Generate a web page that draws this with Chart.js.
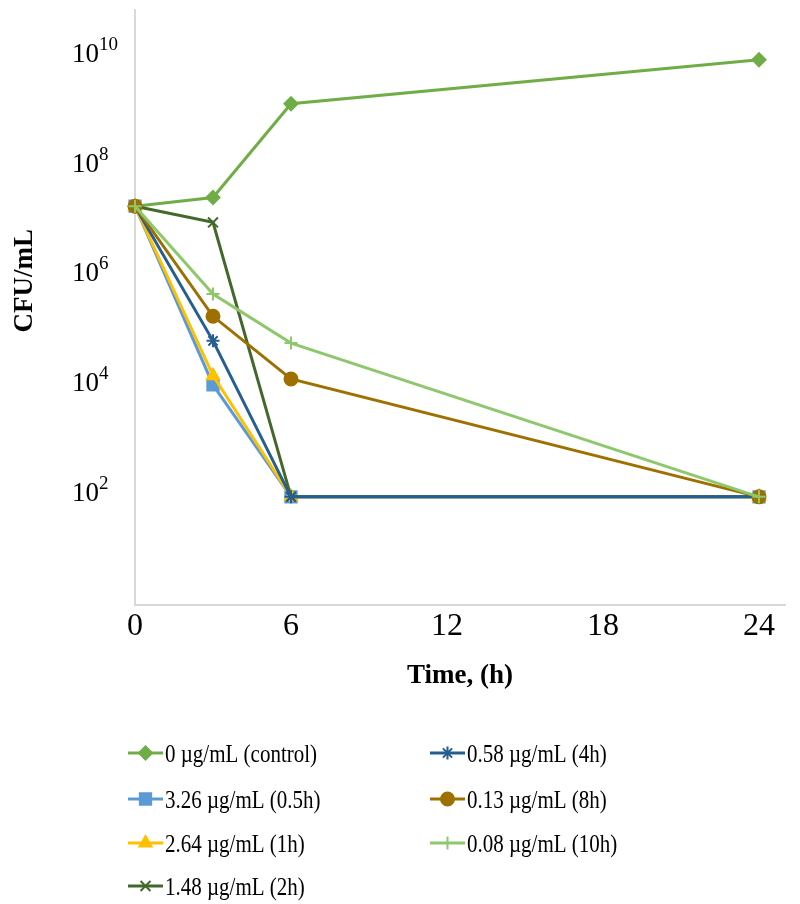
<!DOCTYPE html>
<html>
<head>
<meta charset="utf-8">
<title>Time-kill curves</title>
<script src="https://cdn.jsdelivr.net/npm/chart.js@4/dist/chart.umd.min.js"></script>
<style>
  html, body { margin: 0; padding: 0; background: #fff; }
  #wrap { position: relative; width: 800px; height: 904px; }
</style>
</head>
<body>
<div id="wrap"><canvas id="killChart"></canvas></div>
<script>
// sampling times (h)
const hours = [0, 3, 6, 24];

// CFU/mL for each treatment
const control = [1.6e7, 2.3e7, 1.18e9, 7.5e9];
const dose326 = [1.6e7, 8.8e3, 80, 80];
const dose264 = [1.6e7, 1.3e4, 80, 80];
const dose148 = [1.6e7, 8.1e6, 80, 80];
const dose058 = [1.6e7, 5.6e4, 80, 80];
const dose013 = [1.6e7, 1.57e5, 1.13e4, 80];
const dose008 = [1.6e7, 4.0e5, 5.1e4, 80];

const seriesNames = [
  "0 \u00b5g/mL (control)",
  "3.26 \u00b5g/mL (0.5h)",
  "2.64 \u00b5g/mL (1h)",
  "1.48 \u00b5g/mL (2h)",
  "0.58 \u00b5g/mL (4h)",
  "0.13 \u00b5g/mL (8h)",
  "0.08 \u00b5g/mL (10h)"
];
const seriesValues = [control, dose326, dose264, dose148, dose058, dose013, dose008];
const seriesColors = ["#70ad47", "#5b9bd5", "#ffc000", "#43682b", "#255e91", "#9e7000", "#8dc96c"];
const seriesMarkers = ["rectRot", "rect", "triangle", "crossRot", "star", "circle", "cross"];
const markerSizes = [6.5, 8, 7, 7, 6.5, 6.5, 6.5];

const xTickValues = [0, 6, 12, 18, 24];
const yTickExponents = [2, 4, 6, 8, 10];

const SERIF = "'Liberation Serif', 'Times New Roman', serif";

const datasets = seriesNames.map((name, i) => ({
  label: name,
  data: hours.map((h, j) => ({ x: h, y: seriesValues[i][j] })),
  borderColor: seriesColors[i],
  backgroundColor: seriesColors[i],
  pointBackgroundColor: seriesColors[i],
  pointBorderColor: seriesColors[i],
  pointStyle: seriesMarkers[i],
  pointRadius: markerSizes[i],
  pointBorderWidth: 2,
  borderWidth: 3,
  tension: 0,
  clip: false,
  order: seriesNames.length - i   // later series sit on top
}));

function drawMarker(ctx, style, radius, color, x, y) {
  ctx.save();
  ctx.fillStyle = color;
  ctx.strokeStyle = color;
  ctx.lineWidth = 2;
  Chart.helpers.drawPoint(ctx, { pointStyle: style, radius: radius, borderWidth: 2, rotation: 0 }, x, y);
  ctx.restore();
}

// y tick labels as 10 with a raised exponent, plus the rotated y title
const logLabels = {
  id: 'logLabels',
  afterDraw(chart) {
    const ctx = chart.ctx;
    const yScale = chart.scales.y;
    ctx.save();
    ctx.fillStyle = '#000';
    ctx.textAlign = 'left';
    ctx.textBaseline = 'alphabetic';
    yTickExponents.forEach(e => {
      const y = yScale.getPixelForValue(Math.pow(10, e));
      ctx.font = '27px ' + SERIF;
      ctx.fillText('10', 72, y + 9);
      const w = ctx.measureText('10').width;
      ctx.font = '19px ' + SERIF;
      ctx.fillText(String(e), 72 + w, y - 3);
    });

    const area = chart.chartArea;
    ctx.translate(25, area.top + (area.bottom - area.top) * 0.455);
    ctx.rotate(-Math.PI / 2);
    ctx.textAlign = 'center';
    ctx.textBaseline = 'middle';
    ctx.font = 'bold 27px ' + SERIF;
    ctx.fillText('CFU/mL', 0, 0);
    ctx.restore();
  }
};

// two-column legend under the plot
const columnLegend = {
  id: 'columnLegend',
  afterDraw(chart) {
    const ctx = chart.ctx;
    const colX = [128, 430];
    const rowY = [753, 799, 843, 886];
    const perCol = 4;
    chart.data.datasets.forEach((ds, i) => {
      const col = Math.floor(i / perCol);
      const row = i % perCol;
      const x = colX[col];
      const y = rowY[row];
      ctx.save();
      ctx.strokeStyle = ds.borderColor;
      ctx.lineWidth = 3;
      ctx.beginPath();
      ctx.moveTo(x, y);
      ctx.lineTo(x + 35, y);
      ctx.stroke();
      ctx.restore();
      drawMarker(ctx, ds.pointStyle, ds.pointRadius, ds.borderColor, x + 17.5, y);

      ctx.save();
      ctx.fillStyle = '#000';
      ctx.font = '25px ' + SERIF;
      ctx.textBaseline = 'alphabetic';
      ctx.translate(x + 37, y + 8.5);
      ctx.scale(0.84, 1);
      ctx.fillText(ds.label, 0, 0);
      ctx.restore();
    });
  }
};

new Chart(document.getElementById('killChart'), {
  type: 'line',
  data: { datasets: datasets },
  options: {
    responsive: true,
    maintainAspectRatio: false,
    animation: false,
    layout: { padding: { left: 135, top: 10, right: 15, bottom: 212 } },
    plugins: {
      legend: { display: false },
      tooltip: { enabled: false }
    },
    scales: {
      x: {
        type: 'linear',
        min: 0,
        max: 25,
        afterBuildTicks: scale => { scale.ticks = xTickValues.map(v => ({ value: v })); },
        grid: { display: false, drawTicks: false },
        border: { display: true, color: '#d9d9d9', width: 2 },
        ticks: {
          color: '#000',
          padding: 2,
          maxRotation: 0,
          font: { family: SERIF, size: 32 }
        },
        title: {
          display: true,
          text: 'Time, (h)',
          color: '#000',
          padding: { top: 12, bottom: 0 },
          font: { family: SERIF, size: 27, weight: 'bold' }
        }
      },
      y: {
        type: 'logarithmic',
        min: 0.846,
        max: 6.05e10,
        afterBuildTicks: scale => { scale.ticks = yTickExponents.map(e => ({ value: Math.pow(10, e) })); },
        grid: { display: false, drawTicks: false },
        border: { display: true, color: '#d9d9d9', width: 2 },
        ticks: { display: false }
      }
    }
  },
  plugins: [logLabels, columnLegend]
});
</script>
</body>
</html>
